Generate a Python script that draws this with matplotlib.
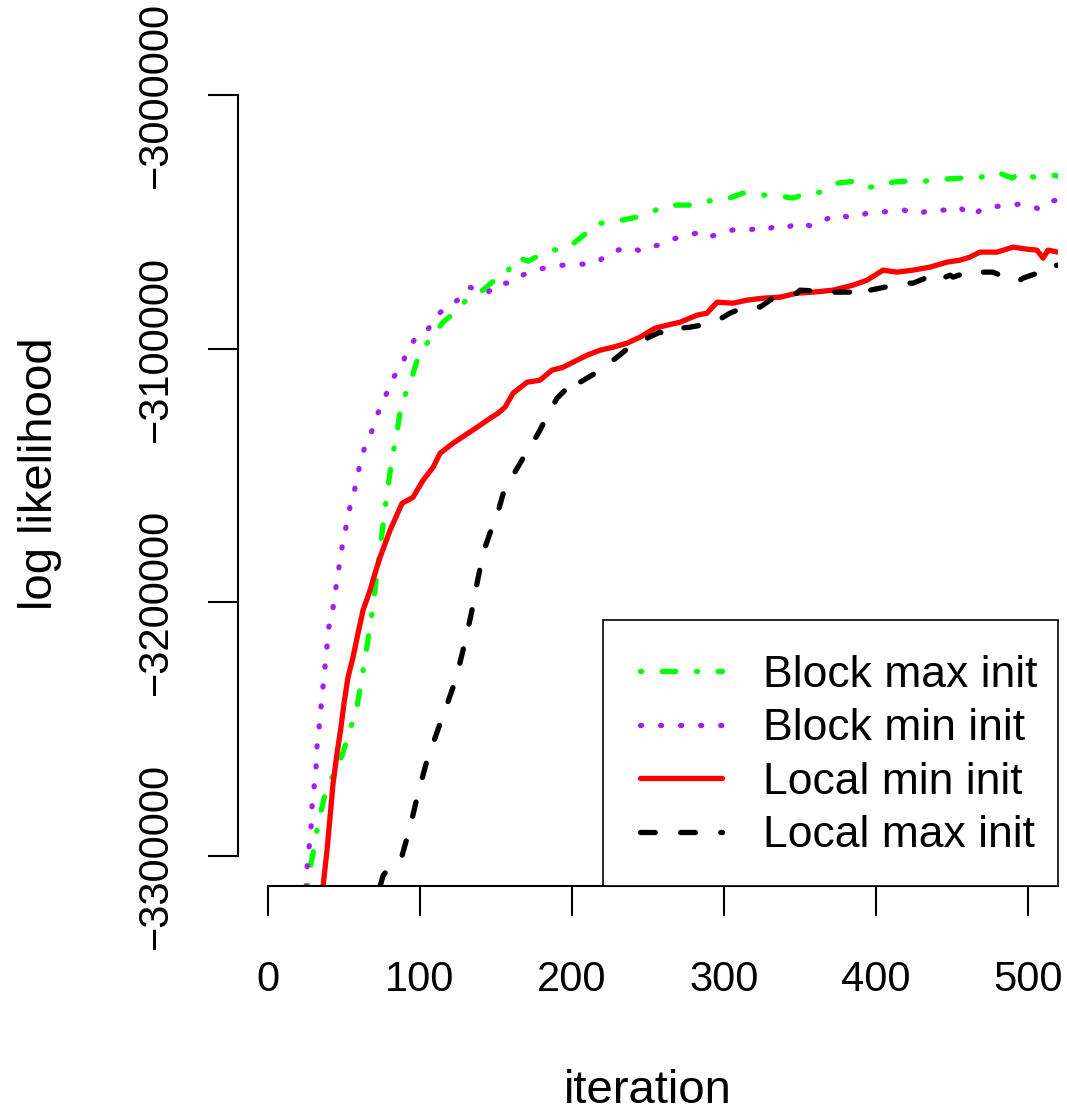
import matplotlib.pyplot as plt
from matplotlib.lines import Line2D
from matplotlib.patches import Rectangle

plt.rcParams['font.family'] = ['Liberation Sans', 'DejaVu Sans']

# values (iteration, log likelihood)
block_max_x = [26.3, 27.0, 29.6, 32.2, 36.8, 42.1, 48.7, 53.3, 58.6, 61.8, 64.5, 68.4, 71.7,
               74.3, 76.3, 78.9, 81.6, 84.9, 87.5, 94.1, 98.7, 102.0, 107.2, 115.1, 122.4,
               130.9, 141.4, 147.4, 155.9, 161.2, 163.8, 171.1, 178.9, 187.5, 197.4, 202.0,
               208.6, 216.4, 223.7, 232.9, 242.8, 251.3, 259.9, 269.7, 282.2, 292.1, 302.0,
               312.5, 323.7, 332.2, 345.4, 355.3, 365.1, 375.0, 386.2, 394.1, 401.3, 411.2,
               420.4, 427.6, 437.5, 445.4, 456.6, 467.1, 479.6, 489.5, 496.1, 503.3, 515.8, 519.7]
block_max_y = [-3312200, -3307100, -3299200, -3290140, -3277500, -3269200, -3260530, -3251840,
               -3241180, -3229740, -3219870, -3204480, -3188690, -3176450, -3166190, -3154740,
               -3143300, -3133030, -3122370, -3112500, -3103420, -3099870, -3095920, -3089600,
               -3086050, -3080530, -3076970, -3073820, -3071450, -3065920, -3063950, -3065530,
               -3063160, -3061180, -3060400, -3058030, -3054870, -3050530, -3050530, -3049340,
               -3048160, -3046580, -3043820, -3043420, -3043420, -3041450, -3041050, -3038690,
               -3039470, -3039470, -3040660, -3038690, -3038290, -3034740, -3033950, -3036320,
               -3036320, -3034340, -3033950, -3034340, -3033550, -3033160, -3032760, -3032760,
               -3030400, -3032760, -3030400, -3032370, -3031580, -3031970]

block_min_x = [24.9, 25.7, 27.0, 28.3, 28.9, 30.3, 31.6, 32.2, 33.6, 34.9, 36.2, 37.5, 38.8,
               40.1, 42.8, 44.7, 46.7, 48.7, 51.3, 53.9, 57.2, 59.9, 63.2, 67.8, 71.7, 77.0,
               81.6, 87.5, 92.1, 98.0, 105.3, 111.8, 117.8, 125.7, 132.2, 137.5, 144.1, 151.3,
               159.2, 165.8, 172.4, 178.9, 187.5, 194.1, 201.3, 207.9, 217.1, 223.0, 230.3,
               237.5, 245.4, 251.3, 259.2, 266.4, 275.7, 282.2, 288.8, 298.7, 308.6, 313.8,
               319.7, 326.3, 333.6, 340.8, 349.3, 357.2, 365.1, 373.7, 381.6, 388.2, 395.4,
               403.3, 411.2, 418.4, 428.3, 436.2, 442.1, 448.7, 454.6, 463.2, 470.4, 473.7,
               481.6, 488.2, 494.7, 501.3, 507.2, 515.1, 519.7]
block_min_y = [-3312300, -3304740, -3296850, -3288950, -3281060, -3273160, -3265270, -3257370,
               -3249480, -3241190, -3233300, -3225400, -3217510, -3209610, -3202110, -3194220,
               -3186320, -3178430, -3170530, -3162640, -3155140, -3147240, -3139740, -3133420,
               -3126320, -3119210, -3112110, -3107370, -3100260, -3095130, -3092370, -3086450,
               -3083680, -3080530, -3075790, -3076580, -3078160, -3074210, -3074210, -3071450,
               -3069870, -3068680, -3067500, -3067110, -3066710, -3066710, -3065920, -3062760,
               -3061180, -3060000, -3061580, -3060000, -3058820, -3056840, -3055260, -3054470,
               -3056450, -3054080, -3052900, -3053290, -3052900, -3053680, -3051710, -3052500,
               -3050130, -3051710, -3049740, -3046970, -3048160, -3048160, -3046180, -3046180,
               -3045790, -3045390, -3046970, -3045000, -3045390, -3045390, -3044210, -3047760,
               -3044610, -3044210, -3043820, -3043420, -3043030, -3043420, -3045000, -3041840,
               -3041450]

local_min_x = [36.2, 38.8, 40.8, 42.8, 45.4, 48.0, 50.0, 52.6, 55.9, 59.2, 62.5, 67.1, 70.4,
               73.7, 80.3, 88.2, 95.4, 102.0, 108.6, 113.2, 121.7, 129.6, 139.5, 146.1, 151.3,
               155.9, 161.2, 170.4, 178.9, 186.8, 194.1, 203.3, 209.9, 218.4, 227.0, 236.2,
               244.7, 254.6, 262.5, 271.1, 282.2, 288.8, 295.4, 305.9, 315.1, 325.7, 336.8,
               348.0, 358.6, 371.7, 384.9, 394.1, 404.6, 413.8, 424.3, 435.5, 446.7, 455.3,
               461.8, 468.4, 479.6, 490.1, 499.3, 505.9, 509.9, 513.2, 519.7]
local_min_y = [-3312240, -3298030, -3285000, -3271580, -3259740, -3249470, -3240000, -3229740,
               -3221840, -3212370, -3203290, -3195400, -3188690, -3182370, -3171710, -3161050,
               -3158690, -3151970, -3146840, -3141320, -3137370, -3134210, -3130260, -3127500,
               -3125530, -3123160, -3117630, -3113290, -3112500, -3108550, -3107370, -3104610,
               -3102630, -3100660, -3099470, -3097890, -3095530, -3091970, -3090790, -3089610,
               -3086840, -3086050, -3081710, -3082110, -3080920, -3080130, -3079740, -3078160,
               -3077760, -3076970, -3075000, -3073030, -3069080, -3069870, -3069080, -3067890,
               -3065920, -3065130, -3063950, -3061970, -3061970, -3060000, -3060790, -3061180,
               -3064340, -3061180, -3061970]

local_max_x = [73.7, 75.7, 84.9, 88.2, 93.4, 98.7, 104.6, 108.6, 113.2, 116.4, 121.7, 125.0,
               128.3, 130.9, 134.2, 136.2, 139.5, 141.4, 147.4, 150.7, 155.9, 159.2, 167.8,
               170.4, 178.9, 182.2, 190.1, 195.4, 203.3, 205.3, 216.4, 223.0, 232.9, 236.8,
               244.7, 249.3, 257.9, 262.5, 271.1, 277.6, 288.8, 292.8, 303.9, 308.6, 319.1,
               323.7, 332.2, 338.2, 348.0, 350.0, 363.2, 367.8, 378.3, 382.9, 394.1, 396.1,
               405.9, 409.2, 420.4, 424.3, 434.2, 437.5, 448.7, 450.7, 463.8, 466.4, 477.0,
               481.6, 492.8, 496.7, 507.9, 509.9, 519.7]
local_max_y = [-3312240, -3307900, -3300790, -3300000, -3288950, -3275530, -3262500, -3255790,
               -3247900, -3242760, -3233680, -3226970, -3219080, -3212370, -3203290, -3196580,
               -3186710, -3180790, -3170530, -3165790, -3154740, -3151970, -3143290, -3140920,
               -3132240, -3128290, -3119610, -3116450, -3111320, -3113290, -3109340, -3106580,
               -3101840, -3099870, -3097890, -3095920, -3093550, -3094740, -3091970, -3091580,
               -3090400, -3090000, -3086050, -3084870, -3082890, -3083680, -3080130, -3079740,
               -3078160, -3076970, -3077370, -3077760, -3077760, -3077760, -3075000, -3076970,
               -3075790, -3075000, -3074210, -3074210, -3071840, -3073820, -3071050, -3071840,
               -3069080, -3069870, -3069870, -3071050, -3073820, -3072240, -3069870, -3067890,
               -3067110]

x_ticks = [0, 100, 200, 300, 400, 500]
y_ticks = [-3300000, -3200000, -3100000, -3000000]

W, H = 1067, 1114
fig = plt.figure(figsize=(W / 100, H / 100), dpi=100)
ax = fig.add_axes([237.6 / W, 1 - 886 / H, (1058.4 - 237.6) / W, (886 - 64.6) / H])
ax.set_xlim(-20, 520)
ax.set_ylim(-3312000, -2988000)

lw = 3.8
styles = [
    (block_max_x, block_max_y, '#00FF00', (0.2, 3.9, 2.6, 3.9), 'Block max init'),
    (block_min_x, block_min_y, '#A020F0', (0.2, 3.6), 'Block min init'),
    (local_min_x, local_min_y, '#FF0000', None, 'Local min init'),
    (local_max_x, local_max_y, '#000000', (2.8, 4.8), 'Local max init'),
]
handles = []
for xs, ys, col, dash, lab in styles:
    kw = dict(color=col, lw=lw, solid_capstyle='round', dash_capstyle='round')
    if dash is not None:
        kw['dashes'] = dash
    ax.plot(xs, ys, **kw)
    handles.append(Line2D([], [], label=lab, **kw))

for s in ['top', 'right']:
    ax.spines[s].set_visible(False)
ax.spines['left'].set_bounds(-3300000, -3000000)
ax.spines['bottom'].set_bounds(0, 520)
for s in ['left', 'bottom']:
    ax.spines[s].set_linewidth(1.5)

ax.set_xticks(x_ticks)
ax.set_xticklabels([str(v) for v in x_ticks])
ax.set_yticks(y_ticks)
ax.set_yticklabels([str(v).replace('-', '\u2212') for v in y_ticks], rotation=90, va='center')
ax.tick_params(axis='x', length=21.6, width=1.5, pad=32, labelsize=30)
ax.tick_params(axis='y', length=21.6, width=1.5, pad=23, labelsize=30)

# legend box drawn separately (R pads the left side more than the right)
box = Rectangle((603 / W, 1 - 886 / H), (1058 - 603) / W, (886 - 620) / H,
                transform=fig.transFigure, facecolor='white', edgecolor='black',
                lw=1.2, zorder=4, clip_on=False)
ax.add_patch(box)
leg = ax.legend(handles=handles, loc='upper left', bbox_to_anchor=(640 / W, 1 - 655 / H),
                bbox_transform=fig.transFigure, fontsize=32, frameon=False,
                borderaxespad=0, borderpad=0, handlelength=1.85, handletextpad=0.92,
                labelspacing=0.28)

fig.text(40 / W, 1 - 474 / H, 'log likelihood', rotation=90, ha='center', va='center', fontsize=34)
fig.text(648 / W, 1 - 1103 / H, 'iteration', ha='center', va='baseline', fontsize=34)

fig.savefig('out.png', dpi=100)
